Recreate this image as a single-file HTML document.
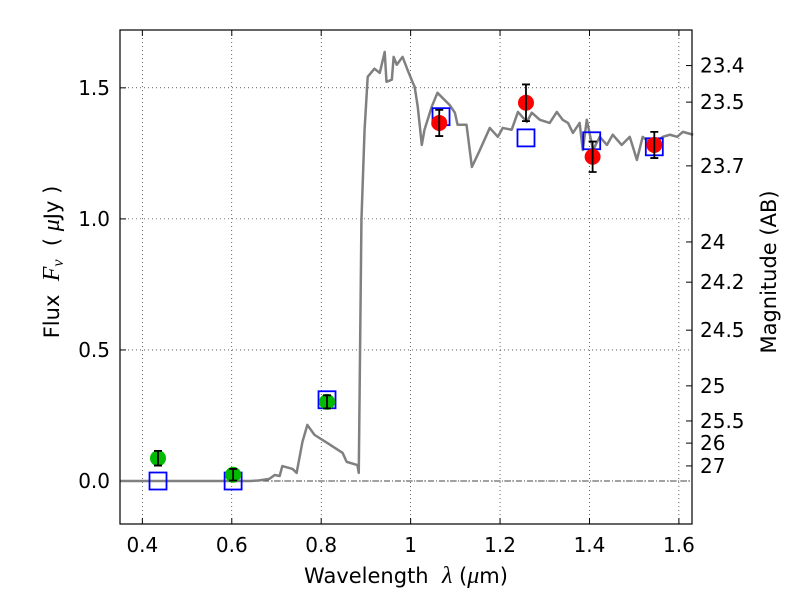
<!DOCTYPE html>
<html><head><meta charset="utf-8"><style>
body{margin:0;background:#fff}
svg{display:block;font-family:"DejaVu Sans","Liberation Sans",sans-serif}
text{white-space:pre}
</style></head><body>
<svg id="chart" width="800" height="600"></svg>
<script>
const specWl=[0.35,0.62,0.640,0.66,0.684,0.696,0.707,0.713,0.736,0.745,0.758,0.769,0.785,0.814,0.848,0.857,0.881,0.884,0.890,0.897,0.904,0.919,0.931,0.942,0.946,0.958,0.962,0.969,0.982,0.993,1.005,1.009,1.016,1.025,1.031,1.047,1.060,1.087,1.099,1.105,1.125,1.137,1.155,1.177,1.195,1.206,1.226,1.240,1.260,1.271,1.289,1.311,1.327,1.340,1.352,1.363,1.378,1.385,1.394,1.408,1.423,1.439,1.452,1.472,1.490,1.497,1.506,1.519,1.542,1.564,1.580,1.596,1.609,1.632];
const specFlux=[0,0,0,0.002,0.008,0.023,0.019,0.057,0.046,0.031,0.149,0.214,0.176,0.145,0.107,0.073,0.061,0.031,0.996,1.340,1.542,1.573,1.557,1.637,1.523,1.531,1.618,1.588,1.618,1.569,1.519,1.504,1.427,1.282,1.340,1.427,1.481,1.435,1.405,1.359,1.359,1.198,1.263,1.347,1.313,1.347,1.340,1.408,1.370,1.405,1.378,1.366,1.408,1.378,1.366,1.328,1.366,1.263,1.378,1.263,1.313,1.282,1.321,1.282,1.313,1.275,1.225,1.313,1.282,1.313,1.321,1.313,1.332,1.321,1.313];
const greenWl=[0.435,0.603,0.813];
const greenFlux=[0.087,0.024,0.302];
const greenErr=[0.028,0.022,0.025];
const redWl=[1.064,1.258,1.407,1.545];
const redFlux=[1.366,1.443,1.237,1.282];
const redErr=[0.05,0.07,0.058,0.05];
const modelWl=[0.435,0.603,0.813,1.068,1.258,1.405,1.545];
const modelFlux=[0.0,0.0,0.31,1.39,1.309,1.298,1.275];
const xTicks=[0.4,0.6,0.8,1.0,1.2,1.4,1.6];
const xTickLabels=["0.4","0.6","0.8","1","1.2","1.4","1.6"];
const yTicks=[0,0.5,1.0,1.5];
const yTickLabels=["0.0","0.5","1.0","1.5"];
const magTicks=[23.4,23.5,23.7,24,24.2,24.5,25,25.5,26,27];

const L=120,R=692,T=30,B=524,X0=0.35,X1=1.6293,Y0=-0.164,Y1=1.7206;
const sx=v=>L+(v-X0)/(X1-X0)*(R-L);
const sy=v=>B-(v-Y0)/(Y1-Y0)*(B-T);
const svg=document.getElementById('chart');
const NS='http://www.w3.org/2000/svg';
function mk(tag,attrs,parent){const e=document.createElementNS(NS,tag);for(const k in attrs)e.setAttribute(k,attrs[k]);(parent||svg).appendChild(e);return e;}

xTicks.forEach((t,i)=>{
 const g=mk('line',{x1:sx(t),x2:sx(t),y1:T,y2:B,stroke:'#000','stroke-width':0.6,'stroke-dasharray':'1,3'});
 
 
 const tk=mk('line',{x1:sx(t),x2:sx(t),y1:B,y2:B-6,stroke:'#000'});
 
 
 mk('line',{x1:sx(t),x2:sx(t),y1:T,y2:T+6,stroke:'#000'});
 const tx=mk('text',{x:sx(t),y:B+28,'text-anchor':'middle','font-size':20});
 tx.textContent=xTickLabels[i];
 
 
});
yTicks.forEach((t,i)=>{
 const g=mk('line',{x1:L,x2:R,y1:sy(t),y2:sy(t),stroke:'#000','stroke-width':0.6,'stroke-dasharray':'1,3'});
 
 
 mk('line',{x1:L,x2:L+6,y1:sy(t),y2:sy(t),stroke:'#000'});
 const tx=mk('text',{x:L-10,y:sy(t)+7,'text-anchor':'end','font-size':20});
 tx.textContent=yTickLabels[i];
 
 
});
const zl=mk('line',{x1:L,x2:R,y1:sy(0),y2:sy(0),stroke:'#444','stroke-width':0.9,'stroke-dasharray':'6,2,1,2'});


magTicks.forEach(m=>{
 const f=Math.pow(10,(23.9-m)/2.5);
 const y=sy(f);
 mk('line',{x1:R,x2:R-6,y1:y,y2:y,stroke:'#000'});
 const tx=mk('text',{x:R+8,y:y+7,'font-size':20});
 tx.textContent=String(m);
 
 
});
const sp=mk('polyline',{points:specWl.map((w,i)=>sx(w)+','+sy(specFlux[i])).join(' '),fill:'none',stroke:'#808080','stroke-width':2.5,'stroke-linejoin':'round'});


modelWl.forEach((w,i)=>{
 const r=mk('rect',{x:sx(w)-8.5,y:sy(modelFlux[i])-8.5,width:17,height:17,fill:'none',stroke:'#0000ff','stroke-width':1.8});
 
 
});
function pts(wl,fl,er,col,name){
 wl.forEach((w,i)=>{
  const c=mk('circle',{cx:sx(w),cy:sy(fl[i]),r:8,fill:col});
  
  
  const x=sx(w),ya=sy(fl[i]+er[i]),yb=sy(fl[i]-er[i]);
  const e=mk('path',{d:`M${x},${ya}V${yb}M${x-4},${ya}H${x+4}M${x-4},${yb}H${x+4}`,stroke:'#000','stroke-width':1.8,fill:'none'});
  
  
 });
}
pts(greenWl,greenFlux,greenErr,'#00bb00','hst-flux-point');
pts(redWl,redFlux,redErr,'#ff0000','ir-flux-point');
const fr=mk('rect',{x:L,y:T,width:R-L,height:B-T,fill:'none',stroke:'#000','stroke-width':1.2});


</script>
<svg width="800" height="600" style="position:absolute;left:0;top:0">
<text x="406" y="583" text-anchor="middle" font-size="21">Wavelength  <tspan font-family="Liberation Serif" font-style="italic" font-size="24">λ</tspan> (<tspan font-family="Liberation Serif" font-style="italic" font-size="24">μ</tspan>m)</text>
<text transform="translate(59,262) rotate(-90)" text-anchor="middle" font-size="21">Flux  <tspan font-family="Liberation Serif" font-style="italic" font-size="24">F</tspan><tspan font-family="Liberation Serif" font-style="italic" font-size="16" dy="4">ν</tspan><tspan dy="-4">  ( <tspan font-family="Liberation Serif" font-style="italic" font-size="24">μ</tspan>Jy )</tspan></text>
<text transform="translate(776,272) rotate(-90)" text-anchor="middle" font-size="21">Magnitude (AB)</text>
</svg>
</body></html>
